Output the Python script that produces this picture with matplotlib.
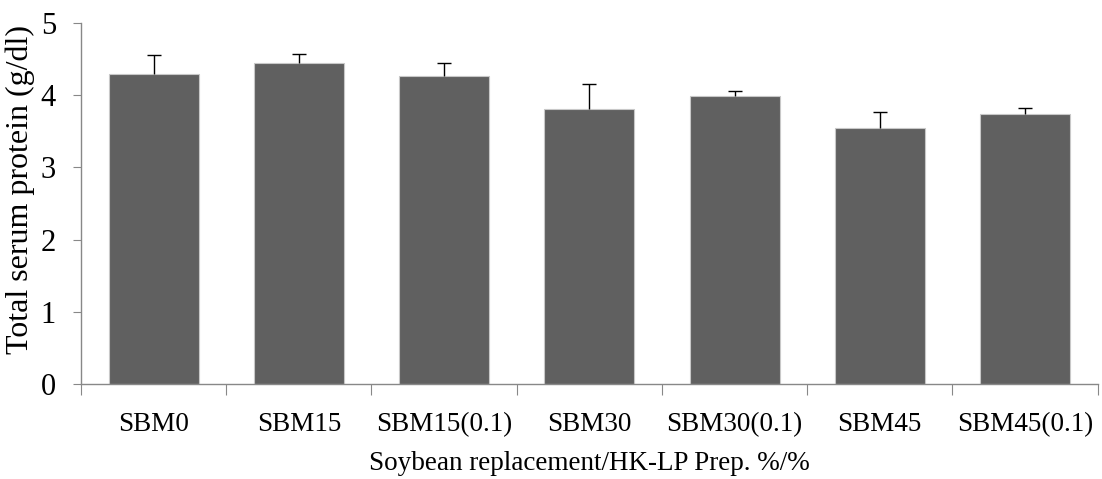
import numpy as np
import matplotlib.pyplot as plt

groups = ["SBM0", "SBM15", "SBM15(0.1)", "SBM30", "SBM30(0.1)", "SBM45", "SBM45(0.1)"]
protein = [4.30, 4.44, 4.26, 3.81, 3.99, 3.54, 3.74]
protein_err = [0.26, 0.13, 0.19, 0.35, 0.07, 0.23, 0.08]

plt.rcParams['font.family'] = ['Liberation Serif', 'DejaVu Serif']

fig = plt.figure(figsize=(11.02, 4.79), dpi=100)
ax = fig.add_axes([0.0735, 0.198, 0.9225, 0.754])

x = np.arange(len(groups))
ax.bar(x, protein, width=0.62, color='#606060', edgecolor='#c8c8c8', linewidth=0.8, zorder=2)
_, caps, _ = ax.errorbar(x, protein, yerr=[np.zeros(len(protein)), protein_err], fmt='none',
                         ecolor='black', elinewidth=1, capsize=5, capthick=1, zorder=3)
# upper whisker only: hide the cap sitting on the bar top
caps[0].set_visible(False)

ax.set_xlim(-0.5, len(groups) - 0.5)
ax.set_ylim(0, 5)
ax.set_yticks(range(6))
ax.tick_params(axis='y', labelsize=22, length=6, color='#888888', pad=12)

# category boundaries get the tick marks, labels sit at bar centres
ax.set_xticks(np.arange(len(groups) + 1) - 0.5)
ax.set_xticklabels([])
ax.tick_params(axis='x', which='major', length=8, color='#888888')
ax.set_xticks(x, minor=True)
ax.set_xticklabels(groups, minor=True)
ax.tick_params(axis='x', which='minor', length=0, labelsize=19.5, pad=20)

for side in ['top', 'right']:
    ax.spines[side].set_visible(False)
for side in ['left', 'bottom']:
    ax.spines[side].set_color('#888888')
    ax.spines[side].set_linewidth(1)

ax.set_xlabel("Soybean replacement/HK-LP Prep. %/%", fontsize=19.5, labelpad=10)
ax.set_ylabel("Total serum protein (g/dl)", fontsize=23, labelpad=0)
ax.yaxis.set_label_coords(-0.045, 0.54)

fig.savefig("out.png", dpi=100)
